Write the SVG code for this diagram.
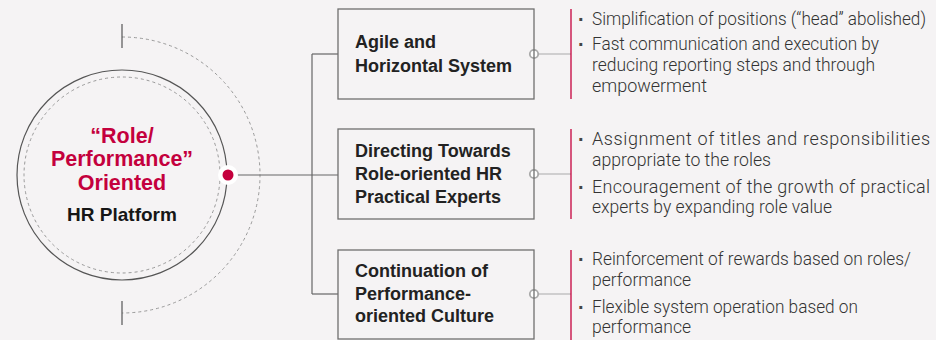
<svg xmlns="http://www.w3.org/2000/svg" width="936" height="340" viewBox="0 0 936 340">
<style>
.bg{fill:#f5f3f4}
.box{fill:none;stroke:#6f6f6f;stroke-width:1.3}
.bt{font-family:"Liberation Sans",Arial,sans-serif;font-weight:bold;font-size:18px;fill:#222}
.ct{font-family:"Liberation Sans",Arial,sans-serif;font-weight:bold;font-size:21.5px;fill:#c4003d;text-anchor:middle}
.hr{font-family:"Liberation Sans",Arial,sans-serif;font-weight:bold;font-size:19px;fill:#161616;text-anchor:middle}
.tx{font-family:"Roboto","Liberation Sans",Arial,sans-serif;font-weight:300;font-size:18px;fill:#333}
.bu{font-family:"Liberation Sans",Arial,sans-serif;font-weight:bold;font-size:20px;fill:#444}
.red{stroke:#c4003d;stroke-width:1.3;fill:none}
.gl{stroke:#aaa;stroke-width:1.2;fill:none}
.cl{stroke:#666;stroke-width:1.2;fill:none}
.ring{fill:#fff;stroke:#aaa;stroke-width:1.8}
.dash{fill:none;stroke:#999;stroke-width:1;stroke-dasharray:3 3}
</style>
<rect class="bg" x="0" y="0" width="936" height="340"/>

<g id="center">
  <circle cx="122" cy="175" r="105" fill="none" stroke="#555" stroke-width="1.2"/>
  <circle class="dash" cx="122" cy="175" r="98"/>
  <path class="dash" d="M122,37 A138,138 0 0 1 122,313"/>
  <line x1="122" y1="24" x2="122" y2="48" stroke="#555" stroke-width="1.2"/>
  <line x1="122" y1="301" x2="122" y2="325" stroke="#555" stroke-width="1.2"/>
  <text class="ct" x="122" y="143">“Role/</text>
  <text class="ct" x="122" y="166">Performance”</text>
  <text class="ct" x="122" y="190">Oriented</text>
  <text class="hr" x="122" y="221">HR Platform</text>
</g>

<g id="connectors">
  <line class="cl" x1="228" y1="175" x2="338" y2="175"/>
  <line class="cl" x1="312" y1="54" x2="312" y2="294"/>
  <line class="cl" x1="312" y1="54" x2="338" y2="54"/>
  <line class="cl" x1="312" y1="294" x2="338" y2="294"/>
  <line class="gl" x1="534" y1="54" x2="571" y2="54"/>
  <line class="gl" x1="534" y1="174" x2="571" y2="174"/>
  <line class="gl" x1="534" y1="294" x2="571" y2="294"/>
  <line class="red" x1="571" y1="9" x2="571" y2="99"/>
  <line class="red" x1="571" y1="129" x2="571" y2="219"/>
  <line class="red" x1="571" y1="250" x2="571" y2="340"/>
  <circle cx="228" cy="175" r="10" fill="#fff"/>
  <circle cx="228" cy="175" r="5.5" fill="#c4003d"/>
  <circle class="ring" cx="534" cy="54" r="4.2"/>
  <circle class="ring" cx="534" cy="174" r="4.2"/>
  <circle class="ring" cx="534" cy="294" r="4.2"/>
</g>

<g id="box1">
  <rect class="box" x="338" y="9" width="196" height="90"/>
  <text class="bt" x="355" y="48">Agile and</text>
  <text class="bt" x="355" y="72">Horizontal System</text>
</g>
<g id="box2">
  <rect class="box" x="338" y="129" width="196" height="90"/>
  <text class="bt" x="355" y="157">Directing Towards</text>
  <text class="bt" x="355" y="180">Role-oriented HR</text>
  <text class="bt" x="355" y="203">Practical Experts</text>
</g>
<g id="box3">
  <rect class="box" x="338" y="250" width="196" height="89"/>
  <text class="bt" x="355" y="277">Continuation of</text>
  <text class="bt" x="355" y="300">Performance-</text>
  <text class="bt" x="355" y="322">oriented Culture</text>
</g>

<g id="notes1">
  <text class="bu" x="578" y="26">·</text>
  <text class="tx" x="592" y="25" textLength="334" lengthAdjust="spacingAndGlyphs">Simplification of positions (“head” abolished)</text>
  <text class="bu" x="578" y="51">·</text>
  <text class="tx" x="592" y="50" textLength="287" lengthAdjust="spacingAndGlyphs">Fast communication and execution by</text>
  <text class="tx" x="592" y="71" textLength="283" lengthAdjust="spacingAndGlyphs">reducing reporting steps and through</text>
  <text class="tx" x="592" y="92" textLength="115" lengthAdjust="spacingAndGlyphs">empowerment</text>
</g>
<g id="notes2">
  <text class="bu" x="578" y="146">·</text>
  <text class="tx" x="592" y="145" textLength="338" lengthAdjust="spacing">Assignment of titles and responsibilities</text>
  <text class="tx" x="592" y="166" textLength="179" lengthAdjust="spacingAndGlyphs">appropriate to the roles</text>
  <text class="bu" x="578" y="194">·</text>
  <text class="tx" x="592" y="193" textLength="338" lengthAdjust="spacing">Encouragement of the growth of practical</text>
  <text class="tx" x="592" y="213" textLength="240" lengthAdjust="spacingAndGlyphs">experts by expanding role value</text>
</g>
<g id="notes3">
  <text class="bu" x="578" y="266">·</text>
  <text class="tx" x="592" y="265" textLength="319" lengthAdjust="spacingAndGlyphs">Reinforcement of rewards based on roles/</text>
  <text class="tx" x="592" y="286" textLength="99" lengthAdjust="spacingAndGlyphs">performance</text>
  <text class="bu" x="578" y="314">·</text>
  <text class="tx" x="592" y="313" textLength="266" lengthAdjust="spacingAndGlyphs">Flexible system operation based on</text>
  <text class="tx" x="592" y="333" textLength="99" lengthAdjust="spacingAndGlyphs">performance</text>
</g>
</svg>
